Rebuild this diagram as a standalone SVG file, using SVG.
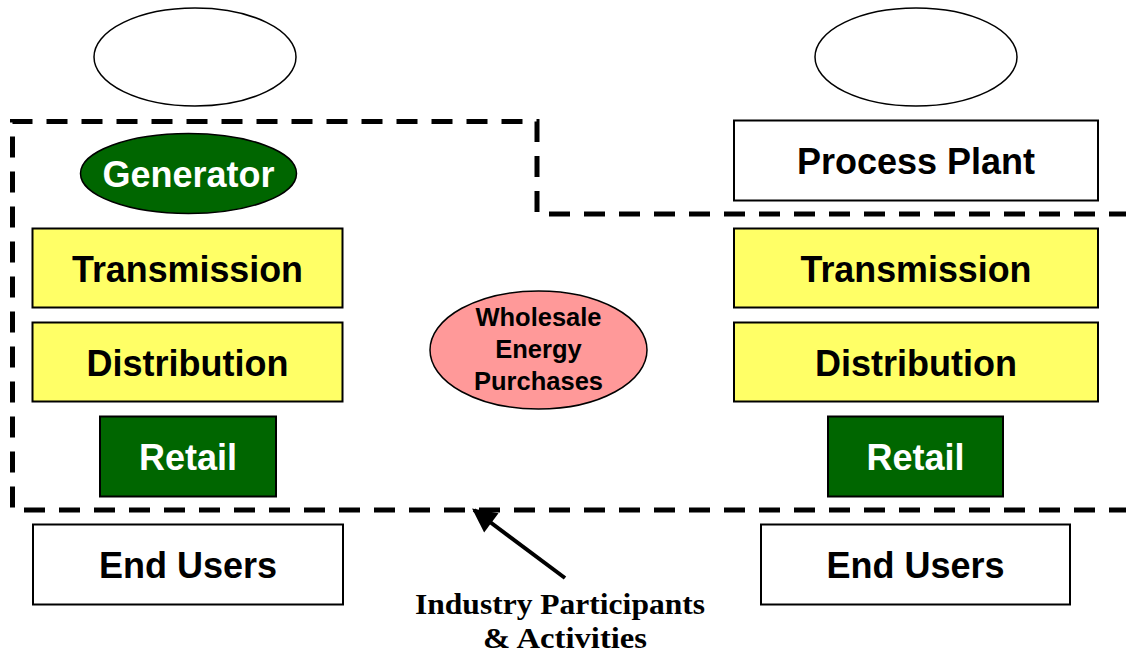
<svg xmlns="http://www.w3.org/2000/svg" width="1126" height="654" viewBox="0 0 1126 654">
  <style>
    .box { stroke: #000; stroke-width: 2; }
    .plain { fill: #fff; }
    .wire { fill: #ffff66; }
    .green { fill: #006600; }
    .oval { stroke: #000; stroke-width: 1.5; }
    .lbl { font-family: "Liberation Sans", Arial, sans-serif; font-weight: bold; font-size: 36px; text-anchor: middle; fill: #000; }
    .lbl.w { fill: #fff; }
    .small { font-size: 25.5px; }
    .note { font-family: "Liberation Serif", "Times New Roman", serif; font-weight: bold; font-size: 30px; text-anchor: middle; fill: #000; }
    .boundary { fill: none; stroke: #000; stroke-width: 5; stroke-dasharray: 21 14; }
  </style>
  <defs>
    <marker id="head" viewBox="0 0 10 10" refX="9" refY="5" markerWidth="6.5" markerHeight="6" orient="auto" markerUnits="strokeWidth">
      <path d="M0,0 L10,5 L0,10 Z" fill="#000"/>
    </marker>
  </defs>

  <rect width="1126" height="654" fill="#fff"/>

  <!-- empty top ovals -->
  <g id="top-left-oval"><ellipse class="oval plain" cx="195" cy="57" rx="101" ry="49"/></g>
  <g id="top-right-oval"><ellipse class="oval plain" cx="916" cy="57" rx="101" ry="49"/></g>

  <!-- left column -->
  <g id="generator">
    <ellipse class="oval green" cx="188.5" cy="173.5" rx="108" ry="40"/>
    <text class="lbl w" x="188.5" y="186.5">Generator</text>
  </g>
  <g id="transmission-left">
    <rect class="box wire" x="32.5" y="228.5" width="310" height="79"/>
    <text class="lbl" x="187.5" y="281.5" textLength="231" lengthAdjust="spacingAndGlyphs">Transmission</text>
  </g>
  <g id="distribution-left">
    <rect class="box wire" x="32.5" y="322.5" width="310" height="79"/>
    <text class="lbl" x="187.5" y="375.5">Distribution</text>
  </g>
  <g id="retail-left">
    <rect class="box green" x="100" y="416.5" width="176" height="80"/>
    <text class="lbl w" x="188" y="469.5">Retail</text>
  </g>
  <g id="end-users-left">
    <rect class="box plain" x="33" y="524.5" width="310" height="80"/>
    <text class="lbl" x="188" y="577.5">End Users</text>
  </g>

  <!-- centre -->
  <g id="wholesale">
    <ellipse class="oval" fill="#ff9999" cx="538.5" cy="350" rx="108.5" ry="59"/>
    <text class="lbl small" x="538.5" y="326">Wholesale</text>
    <text class="lbl small" x="538.5" y="358">Energy</text>
    <text class="lbl small" x="538.5" y="390">Purchases</text>
  </g>

  <!-- right column -->
  <g id="process-plant">
    <rect class="box plain" x="734" y="120.5" width="364" height="80"/>
    <text class="lbl" x="916" y="173.5">Process Plant</text>
  </g>
  <g id="transmission-right">
    <rect class="box wire" x="734" y="228.5" width="364" height="79"/>
    <text class="lbl" x="916" y="281.5" textLength="231" lengthAdjust="spacingAndGlyphs">Transmission</text>
  </g>
  <g id="distribution-right">
    <rect class="box wire" x="734" y="322.5" width="364" height="79"/>
    <text class="lbl" x="916" y="375.5">Distribution</text>
  </g>
  <g id="retail-right">
    <rect class="box green" x="828" y="416.5" width="175" height="80"/>
    <text class="lbl w" x="915.5" y="469.5">Retail</text>
  </g>
  <g id="end-users-right">
    <rect class="box plain" x="761" y="524.5" width="309" height="80"/>
    <text class="lbl" x="915.5" y="577.5">End Users</text>
  </g>

  <!-- industry boundary and its pointer -->
  <g id="connectors">
    <path class="boundary" d="M1130,214 L537,214 L537,121.5 L12.5,121.5 L12.5,510 L1130,510"/>
    <line x1="565" y1="578" x2="474" y2="510" stroke="#000" stroke-width="4" marker-end="url(#head)"/>
  </g>

  <g id="industry-label">
    <text class="note" x="560" y="614" textLength="290" lengthAdjust="spacingAndGlyphs">Industry Participants</text>
    <text class="note" x="565" y="647.5" textLength="164" lengthAdjust="spacingAndGlyphs">&amp; Activities</text>
  </g>
</svg>
